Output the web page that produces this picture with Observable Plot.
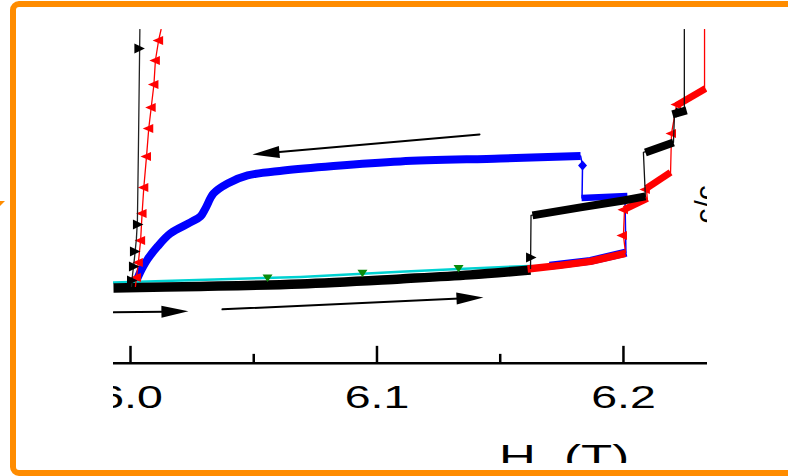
<!DOCTYPE html>
<html><head><meta charset="utf-8">
<script src="https://cdn.jsdelivr.net/npm/d3@7"></script>
<script src="https://cdn.jsdelivr.net/npm/@observablehq/plot@0.6"></script>
<style>
html,body{margin:0;padding:0;background:#fff;overflow:hidden;}
#wrap{position:relative;width:788px;height:476px;overflow:hidden;background:#fff;}
#chart{position:absolute;left:0;top:0;}
#frame{position:absolute;left:10px;top:1px;width:830px;height:475px;box-sizing:border-box;border:6px solid #ff8c00;border-radius:9px;pointer-events:none;}
#tri{position:absolute;left:0;top:201px;width:0;height:0;border-top:5px solid #ff8c00;border-right:5px solid transparent;}
</style></head><body>
<div id="wrap"><div id="chart"></div><div id="frame"></div><div id="tri"></div></div>
<script>
// ---------- scales / axis ----------
const xDomain = [5.9931, 6.2341];
const yDomain = [-3, 10];
const majorTicks = [6.0, 6.1, 6.2];
const minorTicks = [6.05, 6.15];
const tickLabels = ["6.0", "6.1", "6.2"];
const xTitle = "H\u00a0\u00a0(T)";
const yTitle = "c/c";

// ---------- data (H in tesla, signal in arb. units) ----------
// increasing-field baseline (black, thick)
const baseH = [5.9931, 6.0284, 6.0690, 6.1095, 6.1379, 6.1623];
const baseV = [2.260, 2.305, 2.380, 2.530, 2.650, 2.799];
// cyan trace with green markers
const cyanH = [5.9931, 6.0690, 6.1095, 6.1331, 6.1623];
const cyanV = [2.425, 2.590, 2.740, 2.829, 2.919];
const greenH = [6.0556, 6.0941, 6.1331];
const greenV = [2.560, 2.695, 2.844];
// red lower segment
const redLowH = [6.1611, 6.1744, 6.1866, 6.2008];
const redLowV = [2.829, 2.934, 3.054, 3.293];
// blue (decreasing field)
const blueLowH = [6.1700, 6.1866, 6.2012];
const blueLowV = [2.925, 3.070, 3.320];
const blueThinH = [6.2010, 6.2006, 6.1832, 6.1834, 6.1826];
const blueThinV = [3.323, 4.990, 4.955, 5.928, 6.213];
const blueStepH = [6.2016, 6.1830];
const blueStepV = [5.015, 4.955];
const blueMainH = [6.1826, 6.1501, 6.1095, 6.0824, 6.0621, 6.0475, 6.0394, 6.0337, 6.0304, 6.0284, 6.0243, 6.0162, 6.0110, 6.0069, 6.0041, 6.0020, 6.0004];
const blueMainV = [6.213, 6.138, 6.048, 5.913, 5.778, 5.629, 5.389, 5.090, 4.641, 4.401, 4.222, 3.892, 3.503, 3.114, 2.754, 2.425, 2.275];
const blueDiamondH = [6.1834];
const blueDiamondV = [5.928];
// black step branch
const blackStepH = [6.1623, 6.1625, 6.2089, 6.2081, 6.2203, 6.2207, 6.2247, 6.2247];
const blackStepV = [2.844, 4.431, 5.000, 6.317, 6.617, 7.485, 7.575, 10.0];
const blackSegH = [6.1631, 6.1826, 6.2000, 6.2089, 6.2089, 6.2203, 6.2199, 6.2256];
const blackSegV = [4.431, 4.671, 4.880, 5.000, 6.317, 6.617, 7.455, 7.575];
const blackSegId = [0, 0, 0, 0, 1, 1, 2, 2];
const blackStepMarkH = [6.1623, 6.2231];
const blackStepMarkV = [3.174, 7.515];
// red step branch
const redStepH = [6.2008, 6.2000, 6.2004, 6.2097, 6.2093, 6.2191, 6.2195, 6.2215, 6.2329, 6.2329];
const redStepV = [3.323, 3.832, 4.581, 4.910, 5.240, 5.689, 6.886, 7.725, 8.204, 10.0];
const redSegH = [6.2004, 6.2097, 6.2093, 6.2191, 6.2215, 6.2333];
const redSegV = [4.611, 4.940, 5.240, 5.719, 7.725, 8.234];
const redSegId = [0, 0, 1, 1, 2, 2];
const redStepMarkH = [6.1996, 6.2000, 6.2089, 6.2195, 6.2215];
const redStepMarkV = [3.832, 4.600, 5.210, 6.886, 7.754];
// left steep branches
const blackLeftH = [6.0004, 6.0008, 6.0016, 6.0024, 6.0028, 6.0032, 6.0038];
const blackLeftV = [2.305, 2.635, 3.144, 3.743, 4.281, 6.377, 10.0];
const blackLeftMarkH = [6.0034, 6.0028, 6.0016, 6.0012, 6.0004];
const blackLeftMarkV = [9.431, 4.162, 3.353, 2.904, 2.485];
const redLeftH = [6.0020, 6.0024, 6.0032, 6.0041, 6.0047, 6.0054, 6.0065, 6.0074, 6.0084, 6.0095, 6.0101, 6.0114, 6.0124];
const redLeftV = [2.305, 2.575, 3.024, 3.683, 4.491, 5.269, 6.198, 7.036, 7.665, 8.353, 9.072, 9.671, 10.0];
// sweep arrows (start -> tip)
const arrowH1 = [6.1416, 5.9931, 6.0373];
const arrowV1 = [6.856, 1.527, 1.617];
const arrowH2 = [6.0495, 6.0235, 6.1432];
const arrowV2 = [6.257, 1.557, 1.976];

// ---------- helpers ----------
const rows = (H, V, S) => H.map((h, i) => ({h, v: V[i], s: S ? S[i] : 0}));
const sym = pts => ({draw(ctx) { ctx.moveTo(pts[0][0], pts[0][1]); for (const p of pts.slice(1)) ctx.lineTo(p[0], p[1]); ctx.closePath(); }});
const triR = sym([[6, 0], [-4.5, -5], [-4.5, 5]]);
const triL = sym([[-6, 0], [4.5, -4.5], [4.5, 4.5]]);
const triD = sym([[0, 4], [-5, -3.5], [5, -3.5]]);
const diam = sym([[0, -5], [4.5, 0], [0, 5], [-4.5, 0]]);

const sx = Plot.scale({x: {domain: xDomain, range: [113, 707]}});
const sy = Plot.scale({y: {domain: yDomain, range: [463, 29]}});
const shafts = [], heads = [];
arrowH1.forEach((h, i) => {
  const x1 = sx.apply(h), y1 = sy.apply(arrowV1[i]);
  const x2 = sx.apply(arrowH2[i]), y2 = sy.apply(arrowV2[i]);
  const L = Math.hypot(x2 - x1, y2 - y1), dx = (x2 - x1) / L, dy = (y2 - y1) / L;
  const bx = x2 - 27 * dx, by = y2 - 27 * dy, nx = -dy, ny = dx;
  const inv = (x, y, s) => ({h: sx.invert(x), v: sy.invert(y), s});
  shafts.push(inv(x1, y1, i), inv(bx + 3 * dx, by + 3 * dy, i));
  heads.push(inv(x2, y2, i), inv(bx + 6 * nx, by + 6 * ny, i), inv(bx - 6 * nx, by - 6 * ny, i));
});

const F = "Liberation Sans, Arial, Helvetica, sans-serif";
const C = {x: "h", y: "v", clip: true};
const tickRows = majorTicks.map((h, i) => ({h, v: -1.051, label: tickLabels[i]}));

const svg = Plot.plot({
  width: 788, height: 476,
  marginLeft: 113, marginRight: 81, marginTop: 29, marginBottom: 13,
  x: {domain: xDomain, axis: null},
  y: {domain: yDomain, axis: null},
  marks: [
    // blue decreasing branch
    Plot.line(rows(blueThinH, blueThinV), {...C, stroke: "#0000ff", strokeWidth: 1.5}),
    Plot.line(rows(blueLowH, blueLowV), {...C, stroke: "#0000ff", strokeWidth: 8, strokeLinecap: "butt"}),
    Plot.line(rows(blueStepH, blueStepV), {...C, stroke: "#0000ff", strokeWidth: 6.5, strokeLinecap: "butt"}),
    Plot.line(rows(blueMainH, blueMainV), {...C, stroke: "#0000ff", strokeWidth: 8, curve: "catmull-rom", strokeLinecap: "butt"}),
    Plot.dot(rows(blueDiamondH, blueDiamondV), {...C, symbol: diam, fill: "#0000ff", stroke: "none"}),
    // cyan trace
    Plot.line(rows(cyanH, cyanV), {...C, stroke: "#00d2d2", strokeWidth: 2.5}),
    // black baseline
    Plot.line(rows(baseH, baseV), {...C, stroke: "#000", strokeWidth: 9.5, curve: "catmull-rom", strokeLinecap: "butt"}),
    Plot.dot(rows(greenH, greenV), {...C, symbol: triD, fill: "#0a8a0a", stroke: "none"}),
    // red lower segment
    Plot.line(rows(redLowH, redLowV), {...C, stroke: "#ff0000", strokeWidth: 7.5, strokeLinecap: "butt"}),
    // red step branch
    Plot.line(rows(redStepH, redStepV), {...C, stroke: "#ff0000", strokeWidth: 1.3}),
    Plot.line(rows(redSegH, redSegV, redSegId), {...C, z: "s", stroke: "#ff0000", strokeWidth: 7, strokeLinecap: "butt"}),
    Plot.dot(rows(redStepMarkH, redStepMarkV), {...C, symbol: triL, fill: "#ff0000", stroke: "none"}),
    // black step branch
    Plot.line(rows(blackStepH, blackStepV), {...C, stroke: "#111", strokeWidth: 1.3}),
    Plot.line(rows(blackSegH, blackSegV, blackSegId), {...C, z: "s", stroke: "#000", strokeWidth: 8, strokeLinecap: "butt"}),
    Plot.dot(rows(blackStepMarkH, blackStepMarkV), {...C, symbol: triR, fill: "#000", stroke: "none"}),
    // left steep branches
    Plot.line(rows(redLeftH, redLeftV), {...C, stroke: "#ff0000", strokeWidth: 1.3}),
    Plot.dot(rows(redLeftH.slice(1, -1), redLeftV.slice(1, -1)), {...C, symbol: triL, fill: "#ff0000", stroke: "none"}),
    Plot.line(rows(blackLeftH, blackLeftV), {...C, stroke: "#222", strokeWidth: 1.3}),
    Plot.dot(rows(blackLeftMarkH, blackLeftMarkV), {...C, symbol: triR, fill: "#000", stroke: "none"}),
    // x axis
    Plot.ruleY([0], {y: d => d, x1: xDomain[0], x2: xDomain[1], stroke: "#000", strokeWidth: 2.5, clip: true}),
    Plot.ruleX(majorTicks, {x: d => d, y1: 0, y2: 0.509, stroke: "#000", strokeWidth: 2.5, clip: true}),
    Plot.ruleX(minorTicks, {x: d => d, y1: 0, y2: 0.269, stroke: "#000", strokeWidth: 2.5, clip: true}),
    Plot.text(tickRows, {...C, text: "label", fontSize: 31, fontFamily: F, fill: "#000"}),
    Plot.text([{h: 6.1759, v: -2.796}], {...C, text: () => xTitle, fontSize: 34, fontFamily: F, fill: "#000"}),
    Plot.text([{h: 6.2336, v: 4.760}], {...C, text: () => yTitle, rotate: -90, fontSize: 30, fontFamily: F, fill: "#000"}),
    // arrows
    Plot.line(shafts, {...C, z: "s", stroke: "#000", strokeWidth: 2}),
    Plot.line(heads, {...C, z: "s", fill: "#000", stroke: "none"})
  ]
});

d3.select(svg).selectAll("text").each(function () {
  const s = this.textContent;
  if (tickLabels.includes(s) || s === xTitle) {
    const t = this.getAttribute("transform");
    if (t) this.setAttribute("transform", t + " scale(1.5,1)");
    else {
      const x = +this.getAttribute("x") || 0;
      this.setAttribute("transform", `translate(${x},0) scale(1.5,1) translate(${-x},0)`);
    }
  }
});
document.getElementById("chart").appendChild(svg);
</script>
</body></html>
